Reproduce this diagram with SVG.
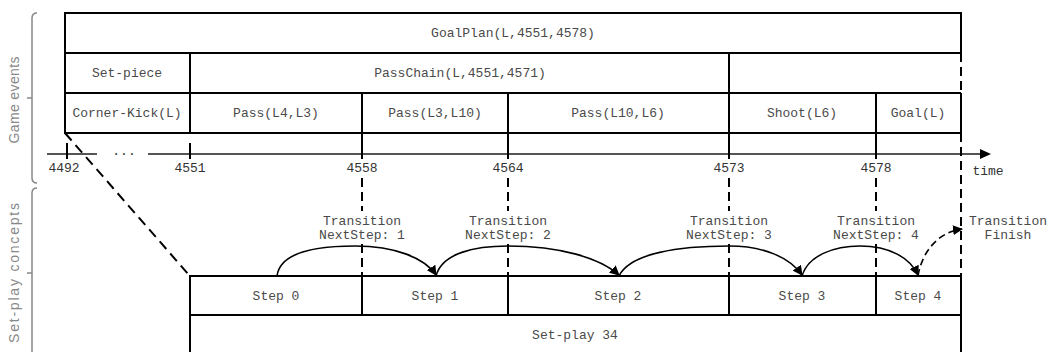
<svg xmlns="http://www.w3.org/2000/svg" width="1053" height="352" viewBox="0 0 1053 352">
<style>
.box{fill:none;stroke:#000;stroke-width:2}
.ln{stroke:#000;stroke-width:2;fill:none}
.dash{stroke:#000;stroke-width:2;fill:none;stroke-dasharray:9 5}
.t{font-family:"Liberation Mono","Courier New",monospace;font-size:13px;fill:#4a4a4a;text-anchor:middle}
.n{font-family:"Liberation Mono","Courier New",monospace;font-size:13px;fill:#333;text-anchor:middle}
.side{font-family:"Liberation Sans",Arial,sans-serif;font-size:14px;fill:#888;text-anchor:middle}
.br{stroke:#888;stroke-width:1.5;fill:none}
.arc{stroke:#000;stroke-width:1.6;fill:none}
</style>
<defs>
<marker id="ah" viewBox="0 0 10 10" refX="9" refY="5" markerWidth="10" markerHeight="10" markerUnits="userSpaceOnUse" orient="auto">
<path d="M0,0 L10,5 L0,10 Z" fill="#000"/>
</marker>
</defs>
<rect width="1053" height="352" fill="#fff"/>

<g id="side-labels">
<path class="br" d="M37 13 Q32 13 32 18 L32 178 Q32 183 37 183 M32 98 L27 98"/>
<text class="side" transform="translate(19,100) rotate(-90)" textLength="87" lengthAdjust="spacing">Game events</text>
<path class="br" d="M37 188 Q32 188 32 193 L32 352 M32 273 L27 273"/>
<text class="side" transform="translate(19,273) rotate(-90)" textLength="140" lengthAdjust="spacing">Set-play concepts</text>
</g>

<g id="goalplan">
<path class="ln" d="M65 53 L65 13 L961 13 L961 53"/>
<text class="t" x="513" y="37">GoalPlan(L,4551,4578)</text>
</g>
<g id="setpiece">
<rect class="box" x="65" y="53" width="125" height="40"/>
<text class="t" x="127" y="77">Set-piece</text>
</g>
<g id="passchain">
<path class="ln" d="M190 53 L961 53 M190 93 L961 93"/>
<text class="t" x="460" y="77">PassChain(L,4551,4571)</text>
</g>
<g id="cornerkick">
<rect class="box" x="65" y="93" width="125" height="40"/>
<text class="t" x="127" y="117">Corner-Kick(L)</text>
</g>
<g id="pass1">
<path class="ln" d="M190 133 L362 133"/>
<text class="t" x="276" y="117">Pass(L4,L3)</text>
</g>
<g id="pass2">
<path class="ln" d="M362 133 L508 133"/>
<text class="t" x="435" y="117">Pass(L3,L10)</text>
</g>
<g id="pass3">
<path class="ln" d="M508 133 L729 133"/>
<text class="t" x="618" y="117">Pass(L10,L6)</text>
</g>
<g id="shoot">
<path class="ln" d="M729 133 L876 133"/>
<text class="t" x="802" y="117">Shoot(L6)</text>
</g>
<g id="goal">
<path class="ln" d="M876 133 L961 133 L961 93"/>
<text class="t" x="918" y="117">Goal(L)</text>
</g>

<g id="timeline">
<path d="M47 154 L97 154 M148 154 L981 154" stroke="#555" stroke-width="2" fill="none"/>
<path d="M980 149 L991 154 L980 159 Z" fill="#000"/>
<text class="n" x="124" y="155">...</text>
<path class="ln" d="M67 143 L67 159 M190 143 L190 159 M362 93 L362 159 M508 93 L508 159 M729 53 L729 159 M876 93 L876 159"/>
<text class="n" x="64" y="172">4492</text>
<text class="n" x="190" y="172">4551</text>
<text class="n" x="362" y="172">4558</text>
<text class="n" x="508" y="172">4564</text>
<text class="n" x="729" y="172">4573</text>
<text class="n" x="876" y="172">4578</text>
<text class="n" x="988" y="175">time</text>
</g>

<g id="guides">
<path class="dash" d="M961 53 L961 93 M961 133 L961 276"/>
<path class="dash" d="M362 178 L362 211 M362 244 L362 276 M508 178 L508 211 M508 244 L508 276 M729 178 L729 211 M729 244 L729 276 M876 178 L876 211 M876 244 L876 276"/>
<path d="M65 133 L189 275" stroke="#000" stroke-width="2" stroke-dasharray="10 6" fill="none"/>
</g>

<g id="step0">
<rect class="box" x="190" y="276" width="172" height="39"/>
<text class="t" x="276" y="300">Step 0</text>
</g>
<g id="step1">
<rect class="box" x="362" y="276" width="146" height="39"/>
<text class="t" x="435" y="300">Step 1</text>
</g>
<g id="step2">
<rect class="box" x="508" y="276" width="221" height="39"/>
<text class="t" x="618" y="300">Step 2</text>
</g>
<g id="step3">
<rect class="box" x="729" y="276" width="147" height="39"/>
<text class="t" x="802" y="300">Step 3</text>
</g>
<g id="step4">
<rect class="box" x="876" y="276" width="85" height="39"/>
<text class="t" x="918" y="300">Step 4</text>
</g>
<g id="setplay34">
<path class="ln" d="M190 315 L190 352 M961 315 L961 352"/>
<text class="t" x="575" y="339">Set-play 34</text>
</g>

<g id="transition-labels">
<text class="t" x="362" y="225">Transition</text>
<text class="t" x="362" y="239">NextStep: 1</text>
<text class="t" x="508" y="225">Transition</text>
<text class="t" x="508" y="239">NextStep: 2</text>
<text class="t" x="729" y="225">Transition</text>
<text class="t" x="729" y="239">NextStep: 3</text>
<text class="t" x="876" y="225">Transition</text>
<text class="t" x="876" y="239">NextStep: 4</text>
<text class="t" x="1008" y="225">Transition</text>
<text class="t" x="1008" y="239">Finish</text>
</g>

<g id="connectors">
<path class="arc" marker-end="url(#ah)" d="M277 276 C280 252 315 246 355 246 C395 246 425 258 436 275"/>
<path class="arc" marker-end="url(#ah)" d="M436 276 C442 253 475 246 508 246 C560 246 600 258 619 275"/>
<path class="arc" marker-end="url(#ah)" d="M619 276 C630 253 680 246 729 246 C765 246 790 258 802 275"/>
<path class="arc" marker-end="url(#ah)" d="M802 276 C808 255 835 246 860 246 C890 246 910 258 918 275"/>
<path class="arc" stroke-dasharray="7 4" marker-end="url(#ah)" d="M918 276 C922 252 938 232 962 229"/>
</g>
</svg>
